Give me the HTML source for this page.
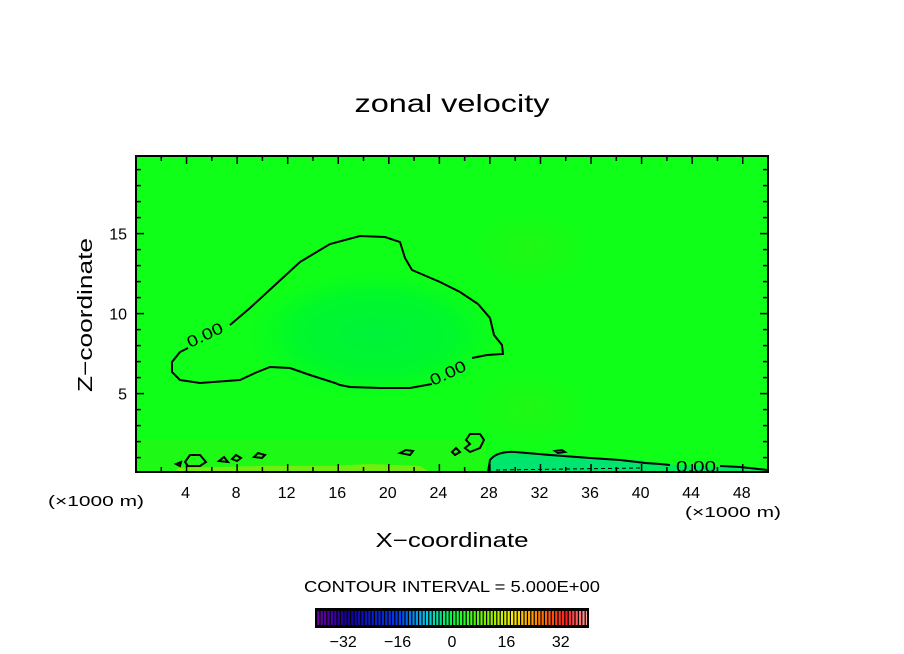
<!DOCTYPE html>
<html><head><meta charset="utf-8"><style>
html,body{margin:0;padding:0;background:#fff;}
svg{display:block;font-family:"Liberation Sans","DejaVu Sans",sans-serif;}
</style></head><body>
<svg id="chart" width="904" height="654" viewBox="0 0 904 654">
<defs>
<radialGradient id="blob" cx="0.5" cy="0.5" r="0.5">
<stop offset="0" stop-color="#00f23a"/><stop offset="0.6" stop-color="#00f82c"/><stop offset="1" stop-color="#00fc20" stop-opacity="0"/>
</radialGradient>
<radialGradient id="blob2" cx="0.5" cy="0.5" r="0.5">
<stop offset="0" stop-color="#30f010" stop-opacity="0.5"/><stop offset="1" stop-color="#30f010" stop-opacity="0"/>
</radialGradient>
<clipPath id="pc"><rect x="136" y="156" width="632" height="316"/></clipPath>
</defs>
<text x="452" y="112" font-size="25" text-anchor="middle" textLength="195" lengthAdjust="spacingAndGlyphs">zonal velocity</text>
<g clip-path="url(#pc)">
<rect x="136" y="156" width="632" height="316" fill="#10ff18"/>
<ellipse cx="375" cy="335" rx="130" ry="65" fill="url(#blob)"/>
<ellipse cx="530" cy="250" rx="60" ry="40" fill="url(#blob2)"/>
<ellipse cx="530" cy="410" rx="60" ry="40" fill="url(#blob2)"/>
<rect x="136" y="440" width="350" height="32" fill="#40f010" opacity="0.3"/>
<path d="M487,472 L490,458 Q495,452 510,452 L560,454 L600,458 L640,460 L660,464 L700,466 L740,468 L768,470 L768,472 Z" fill="#00ea60"/>
<path d="M490,472 L493,462 Q500,458 520,458 L600,460 L640,464 L645,472 Z" fill="#00e470"/>
<path d="M175,472 L178,468 L260,466 L330,466 L370,464 L420,466 L430,472 Z" fill="#70ee10"/>
</g>
<g fill="none" stroke="#000" stroke-width="2">
<path d="M230,325 L250,308 L275,285 L300,262 L330,244 L360,236 L385,237 L400,242 L405,258 L412,270 L440,282 L460,292 L478,304 L490,318 L494,335 L502,345 L503,354 L487,355 L472,358 M432,384 L410,388 L380,388 L350,387 L340,385 L335,383 L310,375 L290,368 L270,367 L255,373 L240,380 L200,383 L180,380 L172,372 L172,362 L180,352 L188,348"/>
<path d="M488,472 L490,460 Q497,451 515,452 L550,455 L590,458 L620,460 L645,463 L660,464 L670,465"/>
<path d="M720,466 L740,467 L768,470"/>
<path d="M185,462 L190,455 L200,455 L206,462 L200,466 L188,466 Z"/>
<path d="M219,461 L224,457 L228,462 Z M232,459 L236,455 L241,458 L237,461 Z M254,457 L258,453 L265,455 L262,458 Z M400,453 L406,450 L413,451 L410,455 Z M452,452 L456,448 L460,452 L455,455 Z M466,440 L470,434 L480,434 L484,440 L480,448 L470,452 L465,448 L470,444 Z M555,451 L562,450 L565,452 L558,453 Z"/>
<path d="M176,464 L181,462 L180,466 Z"/>
</g>
<path d="M496,470 L640,468" stroke="#000" stroke-width="1" stroke-dasharray="4 3" fill="none"/>
<g font-size="16">
<text x="190" y="348" transform="rotate(-25 190 348)" textLength="38" lengthAdjust="spacingAndGlyphs">0.00</text>
<text x="433" y="386" transform="rotate(-25 433 386)" textLength="38" lengthAdjust="spacingAndGlyphs">0.00</text>
<text x="676" y="472" textLength="40" lengthAdjust="spacingAndGlyphs">0.00</text>
</g>
<rect x="136" y="156" width="632" height="316" fill="none" stroke="#000" stroke-width="2"/>
<g id="axes"></g>
<text x="452" y="547" font-size="20" text-anchor="middle" textLength="153" lengthAdjust="spacingAndGlyphs">X−coordinate</text>
<text x="92" y="315" font-size="20" text-anchor="middle" transform="rotate(-90 92 315)" textLength="154" lengthAdjust="spacingAndGlyphs">Z−coordinate</text>
<text x="96" y="506" font-size="15" text-anchor="middle" textLength="96" lengthAdjust="spacingAndGlyphs">(×1000 m)</text>
<text x="733" y="517" font-size="15" text-anchor="middle" textLength="96" lengthAdjust="spacingAndGlyphs">(×1000 m)</text>
<text x="452" y="592" font-size="16" text-anchor="middle" textLength="296" lengthAdjust="spacingAndGlyphs">CONTOUR INTERVAL = 5.000E+00</text>
<g id="cbar"></g>
</svg>
<script>
const xTicks=[4,8,12,16,20,24,28,32,36,40,44,48];
const yTicks=[5,10,15];
const cbLabels=[-32,-16,0,16,32];
const cbMin=-40, cbMax=40;
const X0=136,X1=768,Y0=472,Y1=156,xMin=0,xMax=50,yMin=0.1,yMax=19.85;
const sx=v=>X0+(v-xMin)/(xMax-xMin)*(X1-X0);
const sy=v=>Y0-(v-yMin)/(yMax-yMin)*(Y0-Y1);
const NS='http://www.w3.org/2000/svg';
const ax=document.getElementById('axes');
function ln(g,x1,y1,x2,y2,w){const l=document.createElementNS(NS,'line');l.setAttribute('x1',x1);l.setAttribute('y1',y1);l.setAttribute('x2',x2);l.setAttribute('y2',y2);l.setAttribute('stroke','#000');l.setAttribute('stroke-width',w||1.5);g.appendChild(l);return l;}
for(let v=2;v<50;v+=2){const x=sx(v);const maj=xTicks.includes(v);const L=maj?8:5;
ln(ax,x,Y0,x,Y0-L);ln(ax,x,Y1,x,Y1+L);}
xTicks.forEach(v=>{const t=document.createElementNS(NS,'text');


t.setAttribute('x',sx(v)-1);t.setAttribute('y',498);t.setAttribute('font-size','16');t.setAttribute('text-anchor','middle');t.textContent=v;ax.appendChild(t);});
for(let v=1;v<20;v++){const y=sy(v);const maj=yTicks.includes(v);const L=maj?8:5;
ln(ax,X0,y,X0+L,y);ln(ax,X1,y,X1-L,y);}
yTicks.forEach(v=>{const t=document.createElementNS(NS,'text');


t.setAttribute('x',127);t.setAttribute('y',sy(v)+6);t.setAttribute('font-size','16');t.setAttribute('text-anchor','end');t.textContent=v;ax.appendChild(t);});
const cb=document.getElementById('cbar');const CX0=316,CX1=588,CY=609,CH=18;
const cs=v=>CX0+(v-cbMin)/(cbMax-cbMin)*(CX1-CX0);
function col(v){const f=(v-cbMin)/(cbMax-cbMin);
const stops=[[0,[110,0,160]],[0.12,[20,0,160]],[0.3,[0,60,240]],[0.4,[0,200,240]],[0.5,[0,255,60]],[0.62,[120,240,0]],[0.72,[250,240,0]],[0.82,[255,120,0]],[0.92,[255,30,30]],[1,[255,170,170]]];
for(let i=1;i<stops.length;i++){if(f<=stops[i][0]){const a=stops[i-1],b=stops[i];const t=(f-a[0])/(b[0]-a[0]);return 'rgb('+a[1].map((c,k)=>Math.round(c+(b[1][k]-c)*t)).join(',')+')';}}return 'rgb(255,170,170)';}
const bg=document.createElementNS(NS,'rect');bg.setAttribute('x',CX0);bg.setAttribute('y',CY);bg.setAttribute('width',CX1-CX0);bg.setAttribute('height',CH);bg.setAttribute('fill','#000');cb.appendChild(bg);
for(let v=cbMin;v<cbMax;v++){const r=document.createElementNS(NS,'rect');


r.setAttribute('x',cs(v)+1.2);r.setAttribute('y',CY+2);r.setAttribute('width',(cs(v+1)-cs(v))-1.2);r.setAttribute('height',CH-4);r.setAttribute('fill',col(v+0.5));cb.appendChild(r);}
const fr=document.createElementNS(NS,'rect');fr.setAttribute('x',CX0);fr.setAttribute('y',CY);fr.setAttribute('width',CX1-CX0);fr.setAttribute('height',CH);fr.setAttribute('fill','none');fr.setAttribute('stroke','#000');fr.setAttribute('stroke-width','2');cb.appendChild(fr);
cbLabels.forEach(v=>{const t=document.createElementNS(NS,'text');


t.setAttribute('x',cs(v));t.setAttribute('y',647);t.setAttribute('font-size','16');t.setAttribute('text-anchor','middle');t.textContent=v<0?'−'+(-v):v;cb.appendChild(t);});
</script>
</body></html>
